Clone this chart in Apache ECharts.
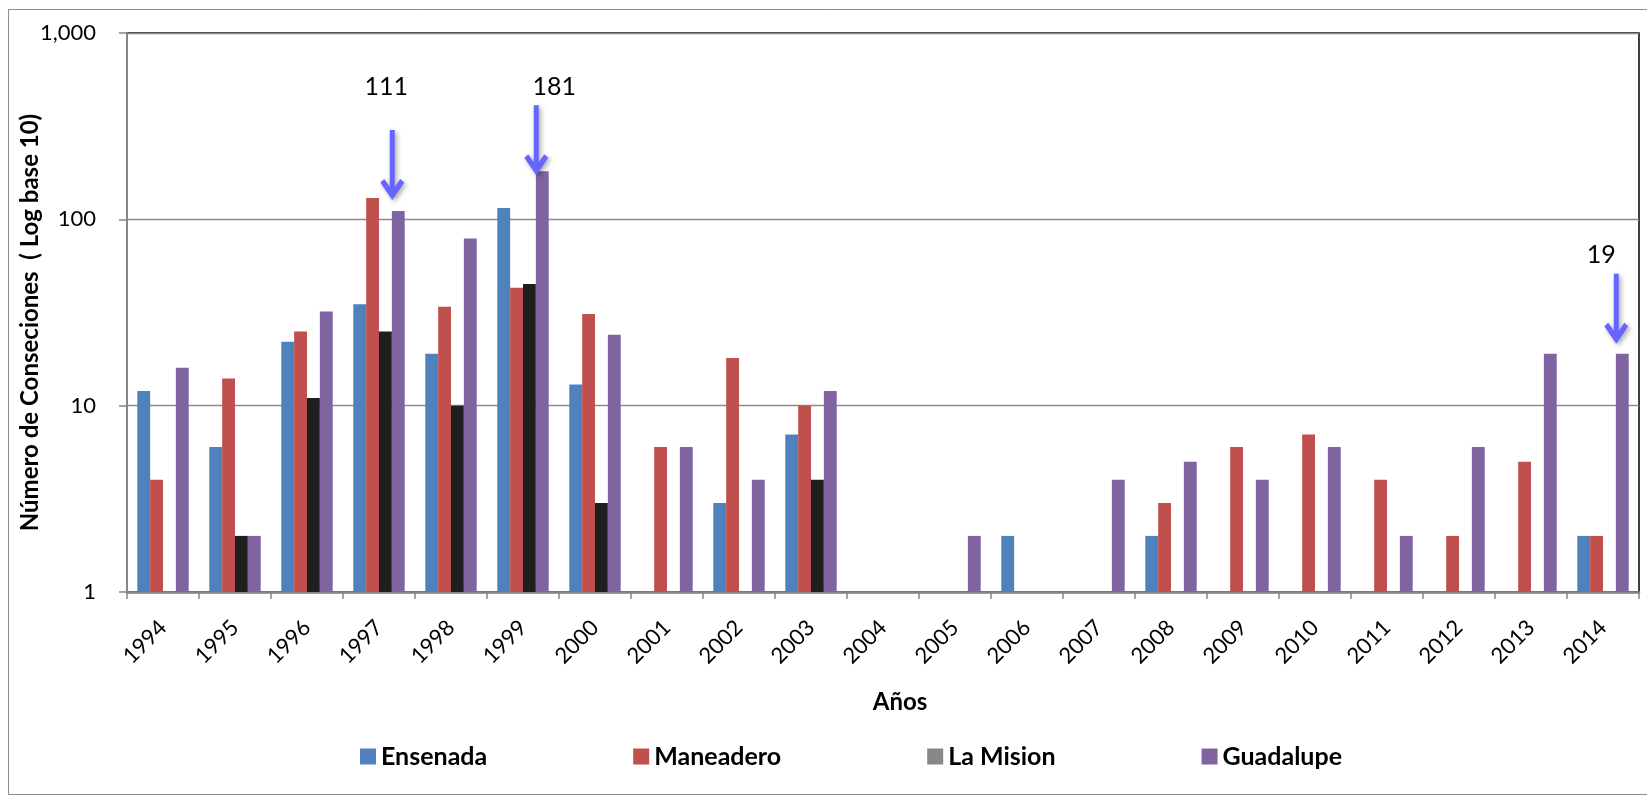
<!DOCTYPE html>
<html>
<head>
<meta charset="utf-8">
<title>Número de Conseciones</title>
<script src="https://cdn.jsdelivr.net/npm/echarts@6/dist/echarts.min.js"></script>
<style>
  html, body { margin: 0; padding: 0; background: #fff; }
  #chart { width: 1647px; height: 796px; }
</style>
</head>
<body>
<div id="chart"></div>
<script>
// Concession counts per year and locality (null = none granted)
const years = ['1994','1995','1996','1997','1998','1999','2000','2001','2002','2003','2004',
               '2005','2006','2007','2008','2009','2010','2011','2012','2013','2014'];
const ensenada  = [12, 6, 22, 35, 19, 115, 13, null, 3, 7, null, null, 2, null, 2, null, null, null, null, null, 2];
const maneadero = [4, 14, 25, 130, 34, 43, 31, 6, 18, 10, null, null, null, null, 3, 6, 7, 4, 2, 5, 2];
const laMision  = [null, 2, 11, 25, 10, 45, 3, null, null, 4, null, null, null, null, null, null, null, null, null, null, null];
const guadalupe = [16, 2, 32, 111, 79, 181, 24, 6, 4, 12, null, 2, null, 4, 5, 4, 6, 2, 6, 19, 19];
const seriesNames = ['Ensenada', 'Maneadero', 'La Mision', 'Guadalupe'];
const yTicks = [1, 10, 100, 1000];
// Guadalupe peaks called out with arrows
const calloutYears = ['1997', '1999', '2014'];

const FONT = 'Lato, "Open Sans", sans-serif';
const colors = ['#4F81BD', '#C0504D', '#1F1F1F', '#8064A2'];
const legendGrey = '#878787';
const arrowPath = 'path://M9.5 0 L14.5 0 L14.5 57 L20 49 L24 52.5 L12 70 L0 52.5 L4 49 L9.5 57 Z';

// placement of each callout arrow / label relative to the bar top
const calloutStyle = {
  '1997': { sym: [-6, -46], lab: [-6, -30] },
  '1999': { sym: [-6, -31], lab: [18, -6] },
  '2014': { sym: [-6, -45], lab: [-15, -6] }
};

const seriesData = [ensenada, maneadero, laMision, guadalupe];

const chart = echarts.init(document.getElementById('chart'), null, { renderer: 'canvas' });

const series = seriesNames.map((name, i) => {
  const s = {
    name: name,
    type: 'bar',
    data: seriesData[i],
    barGap: '0%',
    barCategoryGap: '28.6%',
    itemStyle: { color: colors[i] },
    emphasis: { disabled: true }
  };
  if (name === 'Guadalupe') {
    s.markPoint = {
      symbol: arrowPath,
      symbolSize: [24, 70],
      itemStyle: {
        color: '#6666FF',
        shadowColor: 'rgba(0,0,0,0.35)',
        shadowBlur: 5,
        shadowOffsetX: 2,
        shadowOffsetY: 2
      },
      label: {
        show: true,
        position: 'top',
        distance: 0,
        color: '#000',
        fontFamily: FONT,
        fontSize: 25,
        formatter: p => String(p.value)
      },
      emphasis: { disabled: true },
      data: calloutYears.map(y => {
        const v = guadalupe[years.indexOf(y)];
        return {
          coord: [y, v],
          value: v,
          symbolOffset: calloutStyle[y].sym,
          label: { offset: calloutStyle[y].lab }
        };
      })
    };
  }
  return s;
});

const option = {
  animation: false,
  backgroundColor: '#fff',
  textStyle: { fontFamily: FONT },
  graphic: [{
    type: 'rect',
    shape: { x: 8.5, y: 9.5, width: 1700, height: 785 },
    style: { fill: 'none', stroke: '#8c8c8c', lineWidth: 1 },
    silent: true
  }],
  grid: {
    left: 127, top: 33, width: 1512, height: 559,
    show: true, borderColor: '#000', borderWidth: 1.5,
    containLabel: false
  },
  legend: {
    data: seriesNames.map(n => n === 'La Mision'
      ? { name: n, itemStyle: { color: legendGrey } }
      : { name: n }),
    left: 355,
    top: 739,
    icon: 'rect',
    itemWidth: 16,
    itemHeight: 16,
    itemGap: 146,
    selectedMode: false,
    textStyle: { fontFamily: FONT, fontSize: 25, fontWeight: 'bold', color: '#000' }
  },
  xAxis: {
    type: 'category',
    data: years,
    name: 'Años',
    nameLocation: 'middle',
    nameGap: 98,
    nameTextStyle: { fontFamily: FONT, fontSize: 24, fontWeight: 'bold', color: '#000', padding: [0, 0, 0, 34] },
    axisLine: { lineStyle: { color: '#868686', width: 2.5 } },
    axisTick: { show: true, length: 7, lineStyle: { color: '#868686', width: 1.5 } },
    axisLabel: { rotate: 45, margin: 32, fontSize: 22, color: '#000', fontFamily: FONT, interval: 0 },
    splitLine: { show: false }
  },
  yAxis: {
    type: 'log',
    logBase: 10,
    min: yTicks[0],
    max: yTicks[yTicks.length - 1],
    name: 'Número de Conseciones  ( Log base 10)',
    nameLocation: 'middle',
    nameGap: 85,
    nameMoveOverlap: false,
    nameTextStyle: { fontFamily: FONT, fontSize: 24, fontWeight: 'bold', color: '#000', padding: [0, 20, 0, 0] },
    axisLine: { show: true, lineStyle: { color: '#868686', width: 2 } },
    axisTick: { show: true, length: 8, lineStyle: { color: '#868686', width: 1.5 } },
    axisLabel: {
      margin: 31,
      fontSize: 22,
      color: '#000',
      fontFamily: FONT,
      formatter: v => Number(v).toLocaleString('en-US')
    },
    splitLine: { show: true, lineStyle: { color: '#8a8a8a', width: 1.3 } }
  },
  series: series
};

chart.setOption(option);
</script>
</body>
</html>
